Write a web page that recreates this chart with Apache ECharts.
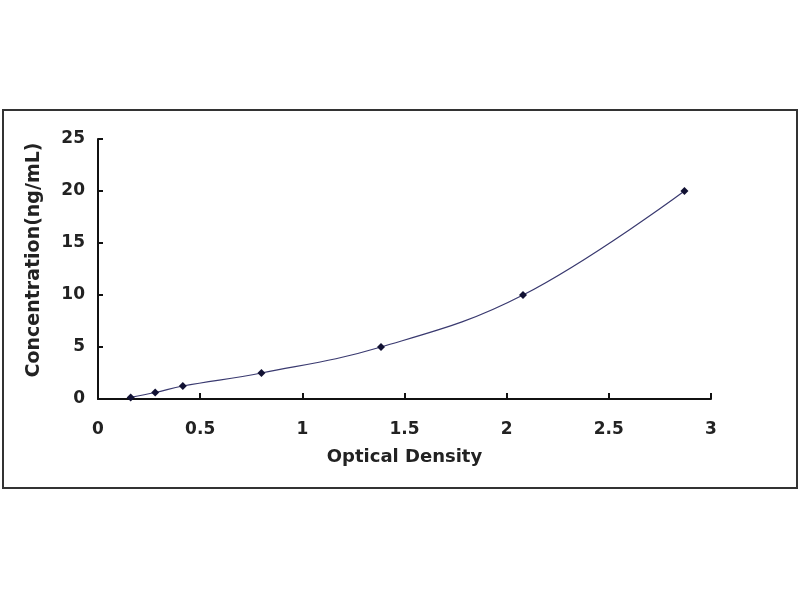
<!DOCTYPE html>
<html>
<head>
<meta charset="utf-8">
<script src="https://cdn.jsdelivr.net/npm/echarts@6/dist/echarts.min.js"></script>
<style>
html,body{margin:0;padding:0;background:#fff;}
#chart{width:800px;height:600px;}
</style>
</head>
<body>
<div id="chart"></div>
<script>
// Data
var opticalDensity = [0.16, 0.28, 0.415, 0.80, 1.385, 2.08, 2.87];
var concentration = [0.156, 0.625, 1.25, 2.5, 5, 10, 20];
var xTitle = 'Optical Density';
var yTitle = 'Concentration(ng/mL)';

var points = opticalDensity.map(function (x, i) { return [x, concentration[i]]; });

var chart = echarts.init(document.getElementById('chart'));
var fam = '"DejaVu Sans", Verdana, sans-serif';
var tickFont = { fontFamily: fam, fontWeight: 'bold', fontSize: 17, color: '#222' };

chart.setOption({
  animation: false,
  backgroundColor: '#fff',
  graphic: [{
    type: 'rect',
    shape: { x: 3, y: 110, width: 794, height: 378 },
    style: { fill: 'none', stroke: '#333', lineWidth: 2 },
    silent: true
  }],
  grid: { left: 98, right: 89, top: 139, bottom: 201 },
  xAxis: {
    type: 'value', min: 0, max: 3, interval: 0.5,
    name: xTitle, nameLocation: 'middle', nameGap: 49,
    nameTextStyle: { fontFamily: fam, fontWeight: 'bold', fontSize: 18, color: '#222' },
    axisLine: { show: true, lineStyle: { color: '#111', width: 2 } },
    axisTick: { show: true, inside: true, length: 6, lineStyle: { color: '#111', width: 2 } },
    axisLabel: Object.assign({ margin: 22 }, tickFont),
    splitLine: { show: false }
  },
  yAxis: {
    type: 'value', min: 0, max: 25, interval: 5,
    name: yTitle, nameLocation: 'middle', nameGap: 54,
    nameTextStyle: { fontFamily: fam, fontWeight: 'bold', fontSize: 19, color: '#222', padding: [0, 0, 0, 18] },
    axisLine: { show: true, lineStyle: { color: '#111', width: 2 } },
    axisTick: { show: true, inside: true, length: 5, lineStyle: { color: '#111', width: 2 } },
    axisLabel: Object.assign({ margin: 13 }, tickFont),
    splitLine: { show: false }
  },
  series: [{
    type: 'line',
    data: points,
    smooth: 0.4,
    symbol: 'diamond',
    symbolSize: 8,
    itemStyle: { color: '#111133' },
    lineStyle: { color: '#3a3a70', width: 1.2 }
  }]
});
</script>
</body>
</html>
